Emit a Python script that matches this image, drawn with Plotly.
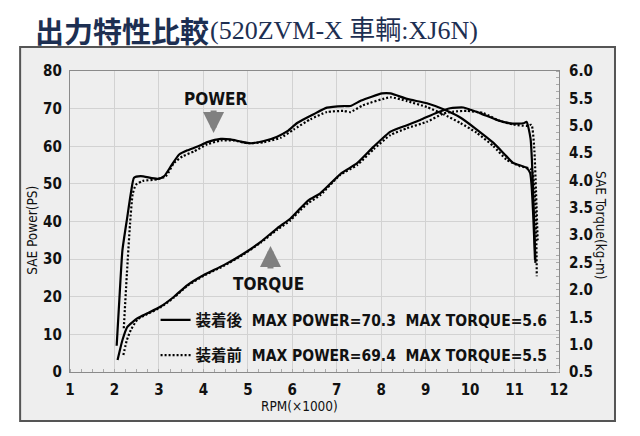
import plotly.graph_objects as go

# ---------------- data ----------------
rpm_torque_after = [2.05, 2.11, 2.18, 2.29, 2.37, 2.44, 2.59, 2.97, 3.12, 3.27, 3.45, 3.64, 3.87,
                    4.09, 4.39, 4.61, 4.84, 5.06, 5.36, 5.66, 5.89, 6.11, 6.48, 6.78, 7.16, 7.31,
                    7.55, 8.02, 8.21, 8.58, 9.03, 9.40, 9.78, 10.15, 10.52, 10.82, 10.97, 11.27,
                    11.35, 11.46]
torque_after = [0.98, 1.82, 2.73, 3.34, 3.77, 4.05, 4.08, 4.03, 4.08, 4.26, 4.47, 4.55, 4.62,
                4.70, 4.76, 4.75, 4.71, 4.68, 4.72, 4.80, 4.90, 5.05, 5.21, 5.33, 5.36, 5.36,
                5.46, 5.59, 5.59, 5.49, 5.41, 5.30, 5.15, 4.93, 4.69, 4.44, 4.32, 4.23,
                4.14, 2.55]

rpm_torque_before = [2.21, 2.28, 2.35, 2.41, 2.48, 2.63, 2.97, 3.16, 3.34, 3.53, 3.79, 4.09, 4.39,
                     4.69, 4.99, 5.36, 5.74, 6.03, 6.41, 6.78, 7.16, 7.31, 7.58, 8.21, 8.58, 9.03,
                     9.40, 9.78, 10.15, 10.52, 10.82, 11.12, 11.38, 11.50]
torque_before = [1.30, 2.30, 3.20, 3.75, 3.92, 3.99, 4.02, 4.08, 4.32, 4.44, 4.53, 4.66, 4.73,
                 4.73, 4.68, 4.70, 4.78, 4.93, 5.12, 5.25, 5.27, 5.25, 5.37, 5.52, 5.45, 5.34,
                 5.21, 5.05, 4.87, 4.63, 4.38, 4.26, 4.20, 2.25]

rpm_power_after = [2.07, 2.18, 2.29, 2.52, 2.74, 3.04, 3.34, 3.64, 4.01, 4.46, 4.91, 5.29, 5.66,
                   5.96, 6.18, 6.37, 6.63, 7.10, 7.46, 7.83, 8.21, 8.58, 8.88, 9.25, 9.55, 9.85,
                   10.22, 10.60, 10.90, 11.20, 11.27, 11.36, 11.47]
power_after = [3.2, 8.5, 12.0, 14.3, 15.6, 17.4, 20.0, 23.1, 25.8, 28.4, 31.5, 34.6, 38.2,
               40.8, 43.5, 45.7, 47.5, 52.8, 55.5, 59.9, 63.9, 65.6, 67.0, 68.9, 70.1, 70.3,
               68.8, 67.0, 66.1, 66.1, 66.5, 62.0, 29.0]

rpm_power_before = [2.20, 2.28, 2.37, 2.52, 2.74, 3.04, 3.34, 3.64, 4.01, 4.46, 4.91, 5.29, 5.66,
                    5.96, 6.18, 6.37, 6.63, 7.08, 7.46, 7.83, 8.21, 8.58, 9.03, 9.40, 9.63, 9.93,
                    10.30, 10.67, 10.97, 11.27, 11.38, 11.44, 11.52]
power_before = [4.5, 8.5, 11.2, 14.0, 15.4, 17.2, 19.8, 22.9, 25.6, 28.2, 31.3, 34.4, 37.8,
                40.3, 43.0, 45.0, 47.0, 52.4, 55.0, 59.2, 63.0, 64.8, 66.5, 68.7, 69.2, 69.4,
                68.8, 66.7, 65.8, 65.4, 65.7, 60.0, 35.0]

x_ticks = list(range(1, 13))
left_ticks = list(range(0, 81, 10))
right_ticks = [0.5 * i for i in range(1, 13)]

label_after = "装着後\u00a0\u00a0MAX POWER=70.3\u00a0\u00a0MAX TORQUE=5.6"
label_before = "装着前\u00a0\u00a0MAX POWER=69.4\u00a0\u00a0MAX TORQUE=5.5"

title_main = "出力特性比較"
title_sub = "(520ZVM-X 車輌:XJ6N)"

# ---------------- styles ----------------
NARROW = "DejaVu Sans Condensed, Liberation Sans Narrow, Roboto, Noto Sans CJK JP, sans-serif"
W = 2.2
solid = dict(color="black", width=W, shape="spline", smoothing=0.5)
dotted = dict(color="black", width=W, dash="2px,2px", shape="spline", smoothing=0.5)

fig = go.Figure()
fig.add_trace(go.Scatter(x=rpm_power_after, y=power_after, mode="lines", line=solid,
                         showlegend=False, yaxis="y"))
fig.add_trace(go.Scatter(x=rpm_power_before, y=power_before, mode="lines", line=dotted,
                         showlegend=False, yaxis="y"))
fig.add_trace(go.Scatter(x=rpm_torque_after, y=torque_after, mode="lines", line=solid,
                         name=label_after, legendgroup="a", yaxis="y2"))
fig.add_trace(go.Scatter(x=rpm_torque_before, y=torque_before, mode="lines", line=dotted,
                         name=label_before, legendgroup="b", yaxis="y2"))

tickfont = dict(family=NARROW, size=15, color="#111", weight="bold")

# the page body adds an 8px offset, so margins are compensated by 8px
fig.update_layout(
    width=640, height=436,
    margin=dict(l=62, r=89, t=63, b=72),
    paper_bgcolor="white",
    plot_bgcolor="#f2f2f2",
    xaxis=dict(range=[1, 12], tickvals=x_ticks, showgrid=True, gridcolor="#d2d2d2",
               gridwidth=1, zeroline=False, showline=True, linecolor="#8a8a8a",
               linewidth=1.2, mirror=True, tickfont=tickfont, ticks="",
               ticklabelstandoff=4,
               minor=dict(dtick=0.25, ticks="inside", ticklen=3, tickcolor="#aaaaaa",
                          showgrid=False)),
    yaxis=dict(range=[0, 80], tickvals=left_ticks, showgrid=True, gridcolor="#d2d2d2",
               gridwidth=1, zeroline=False, showline=True, linecolor="#8a8a8a",
               linewidth=1.2, mirror=True, tickfont=tickfont, ticks="",
               ticklabelstandoff=4),
    yaxis2=dict(range=[0.5, 6.0], tickvals=right_ticks, tickformat=".1f", overlaying="y",
                side="right", showgrid=False, zeroline=False, showline=False,
                tickfont=tickfont, ticks="", ticklabelstandoff=9,
                minor=dict(dtick=0.125, ticks="inside", ticklen=3, tickcolor="#aaaaaa")),
    legend=dict(x=0.175, y=0.228, xanchor="left", yanchor="top",
                bgcolor="rgba(0,0,0,0)", borderwidth=0,
                font=dict(family=NARROW, size=15.5, color="#111", weight="bold"),
                itemwidth=30, tracegroupgap=12, traceorder="grouped"),
    showlegend=True,
)

# outer frame with light gray fill
fig.add_shape(type="rect", xref="paper", yref="paper",
              x0=-0.102, x1=1.1145, y0=-0.1628, y1=1.0797,
              line=dict(color="#555555", width=2), fillcolor="#eeeeee", layer="below")

# titles
fig.add_annotation(xref="paper", yref="paper", x=-0.075, y=1.1362, xanchor="left",
                   yanchor="middle", text=title_main, showarrow=False,
                   font=dict(family="Noto Sans CJK JP", size=29, color="#1d2f52", weight="bold"))
fig.add_annotation(xref="paper", yref="paper", x=0.283, y=1.136, xanchor="left",
                   yanchor="middle", text=title_sub, showarrow=False,
                   font=dict(family="Liberation Serif, Noto Sans CJK JP", size=26,
                             color="#1d2f52"))

# axis titles
axt = dict(family=NARROW, size=13.5, color="#111")
fig.add_annotation(xref="paper", yref="paper", x=-0.078, y=0.472, text="SAE Power(PS)",
                   textangle=-90, showarrow=False, font=axt, xanchor="center", yanchor="middle")
fig.add_annotation(xref="paper", yref="paper", x=1.086, y=0.488, text="SAE Torque(kg-m)",
                   textangle=90, showarrow=False, font=axt, xanchor="center", yanchor="middle")
fig.add_annotation(xref="paper", yref="paper", x=0.47, y=-0.113, text="RPM(×1000)",
                   showarrow=False, font=axt, xanchor="center", yanchor="middle")

# POWER / TORQUE labels with arrows
labf = dict(family=NARROW, size=17, color="#111", weight="bold")
fig.add_annotation(x=4.28, y=72.6, xref="x", yref="y", text="POWER", showarrow=False, font=labf)
fig.add_annotation(x=4.23, y=63.5, xref="x", yref="y", text="", showarrow=True,
                   ax=0, ay=-24, arrowcolor="#808080", arrowwidth=6, arrowhead=2, arrowsize=0.7)
fig.add_annotation(x=5.47, y=23.4, xref="x", yref="y", text="TORQUE", showarrow=False, font=labf)
fig.add_annotation(x=5.51, y=33.5, xref="x", yref="y", text="", showarrow=True,
                   ax=0, ay=24, arrowcolor="#808080", arrowwidth=6, arrowhead=2, arrowsize=0.7)

fig.write_html("out.html")
